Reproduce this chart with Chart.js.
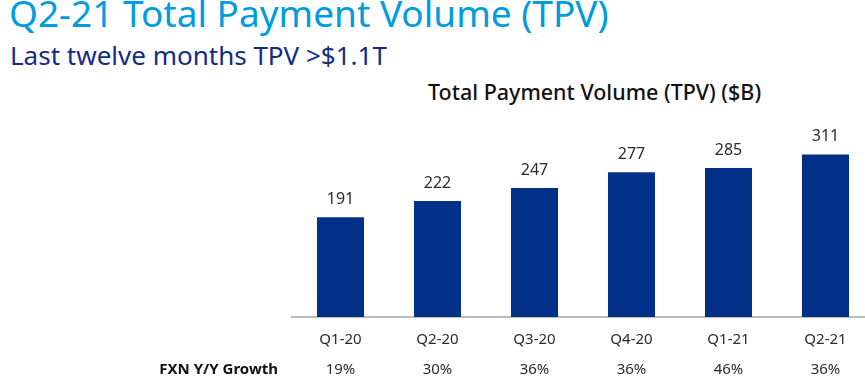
<!DOCTYPE html>
<html>
<head>
<meta charset="utf-8">
<script src="https://cdn.jsdelivr.net/npm/chart.js@4"></script>
<style>
  html, body { margin: 0; padding: 0; background: #fff; overflow: hidden; width: 865px; height: 388px; }
  #wrap { position: absolute; left: 0; top: 0; width: 880px; height: 388px; }
  .txt { position: absolute; white-space: nowrap; font-family: "Noto Sans", sans-serif; }
  #title { left: 9px; top: -13px; font-size: 37px; color: #009cde; }
  #sub { left: 10px; top: 37px; font-size: 26px; color: #142b86; }
  #ctitle { left: 428px; top: 77px; font-size: 21.5px; font-weight: 500; color: #111; }
</style>
</head>
<body>
<div class="txt" id="title">Q2-21 Total Payment Volume (TPV)</div>
<div class="txt" id="sub">Last twelve months TPV &gt;$1.1T</div>
<div class="txt" id="ctitle">Total Payment Volume (TPV) ($B)</div>
<div id="wrap"><canvas id="c" width="880" height="388"></canvas></div>
<script>
var quarters = ['Q1-20', 'Q2-20', 'Q3-20', 'Q4-20', 'Q1-21', 'Q2-21'];
var tpv = [191, 222, 247, 277, 285, 311];
var growth = ['19%', '30%', '36%', '36%', '46%', '36%'];
var growthLabel = 'FXN Y/Y Growth';

var labelsPlugin = {
	id: 'labels',
	afterDatasetsDraw: function(chart) {
		var ctx = chart.ctx;
		var meta = chart.getDatasetMeta(0);
		ctx.save();
		ctx.fillStyle = '#2b2b2b';
		ctx.font = '16px "Noto Sans", sans-serif';
		ctx.textAlign = 'center';
		ctx.textBaseline = 'middle';
		meta.data.forEach(function(bar, i) {
			ctx.fillText(tpv[i], bar.x, bar.y - 18);
		});
		// growth row
		var x = chart.scales.x;
		ctx.font = '15px "Noto Sans", sans-serif';
		growth.forEach(function(g, i) {
			ctx.fillText(g, x.getPixelForValue(i), 370);
		});
		ctx.font = 'bold 15px "Noto Sans", sans-serif';
		ctx.textAlign = 'right';
		ctx.fillStyle = '#111';
		ctx.fillText(growthLabel, 278, 370);
		ctx.restore();
	}
};

var myChart = new Chart(document.getElementById('c'), {
	type: 'bar',
	data: {
		labels: quarters,
		datasets: [{
			data: tpv,
			backgroundColor: '#003087',
			categoryPercentage: 1,
			barPercentage: 0.485
		}]
	},
	options: {
		responsive: false,
		animation: false,
		layout: { padding: { left: 292, right: 6, top: 108, bottom: 0 } },
		plugins: { legend: { display: false }, tooltip: { enabled: false } },
		scales: {
			y: { display: false, min: 0, max: 400 },
			x: {
				grid: { display: false },
				border: { color: '#bdbdbd', width: 2 },
				ticks: { color: '#2b2b2b', font: { family: 'Noto Sans', size: 15 }, padding: 6 },
				afterFit: function(scale) { scale.height = 71; }
			}
		}
	},
	plugins: [labelsPlugin]
});
</script>
</body>
</html>
